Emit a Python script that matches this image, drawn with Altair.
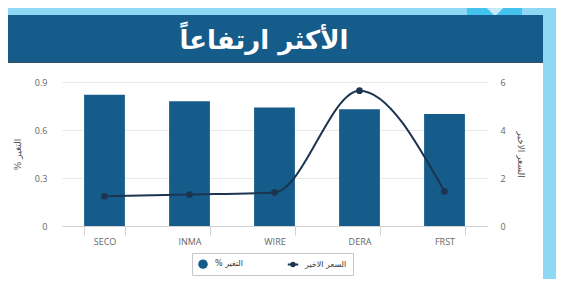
import altair as alt
import pandas as pd

# ---- data ----
categories = ["SECO", "INMA", "WIRE", "DERA", "FRST"]
change_pct = [0.82, 0.78, 0.74, 0.73, 0.70]       # % التغير (left axis)
last_price = [1.24, 1.31, 1.40, 5.64, 1.44]       # السعر الاخير (right axis)
bar_label = "% التغير"
line_label = "السعر الاخير"
title_text = "الأكثر ارتفاعاً"
left_ticks = [0, 0.3, 0.6, 0.9]
right_ticks = [0, 2, 4, 6]

BAR_COLOR = "#165c8b"
LINE_COLOR = "#1b3550"
ARABIC_FONT = "DejaVu Sans"
LATIN_FONT = "Open Sans"

df = pd.DataFrame({"code": categories, "chg": change_pct, "price": last_price})
deco = pd.DataFrame({"k": [0]})

color_scale = alt.Scale(domain=[bar_label, line_label], range=[BAR_COLOR, LINE_COLOR])

LINE_SYMBOL = (
    "M-1.1,-0.2H1.1V0.2H-1.1Z"
    "M-0.6,0A0.6,0.6,0,1,1,0.6,0A0.6,0.6,0,1,1,-0.6,0Z"
)

legend = alt.Legend(
    title=None,
    orient="none",
    legendX=130,
    legendY=171,
    direction="horizontal",
    symbolType=alt.ExprRef(expr="datum.index === 0 ? 'circle' : '%s'" % LINE_SYMBOL),
    symbolSize=90,
    symbolStrokeWidth=0,
    symbolFillColor=alt.ExprRef(expr="datum.index === 0 ? '%s' : '%s'" % (BAR_COLOR, LINE_COLOR)),
    labelFont=ARABIC_FONT,
    labelFontSize=8,
    labelColor="#333333",
    labelOffset=7,
    columnPadding=44,
    strokeColor="#c8c8c8",
    fillColor="white",
    padding=6,
)

color_enc = alt.Color("series:N", scale=color_scale, legend=legend)

x_enc = alt.X(
    "code:N",
    sort=categories,
    scale=alt.Scale(paddingInner=0.52, paddingOuter=0.26),
    axis=alt.Axis(
        title=None,
        labelAngle=0,
        tickBand="extent",
        tickSize=9,
        tickColor="#d0d0d0",
        domainColor="#d0d0d0",
        labelColor="#666666",
        labelFont=LATIN_FONT,
        labelFontSize=9,
        labelPadding=2,
        grid=False,
    ),
)

bars = alt.Chart(df).transform_calculate(series=repr(bar_label)).mark_bar().encode(
    x=x_enc,
    y=alt.Y(
        "chg:Q",
        scale=alt.Scale(domain=[0, 0.9], nice=False),
        axis=alt.Axis(
            orient="left",
            values=left_ticks,
            labelExpr="datum.value == 0 ? '0' : format(datum.value, '.1f')",
            title=bar_label,
            titleFont=ARABIC_FONT,
            titleFontSize=9,
            titleFontWeight="normal",
            titleColor="#555555",
            titlePadding=12,
            labelFont=LATIN_FONT,
            labelFontSize=9,
            labelColor="#666666",
            labelPadding=15,
            ticks=False,
            tickSize=0,
            domain=False,
            grid=True,
            gridColor="#e8e8e8",
        ),
    ),
    color=color_enc,
)

y_right = alt.Y(
    "price:Q",
    scale=alt.Scale(domain=[0, 6], nice=False),
    axis=alt.Axis(
        orient="right",
        values=right_ticks,
        title=line_label,
        titleFont=ARABIC_FONT,
        titleFontSize=9,
        titleFontWeight="normal",
        titleColor="#555555",
        titlePadding=10,
        labelFont=LATIN_FONT,
        labelFontSize=9,
        labelColor="#666666",
        labelPadding=13,
        ticks=False,
        tickSize=0,
        domain=False,
        grid=False,
    ),
)

line = alt.Chart(df).transform_calculate(series=repr(line_label)).mark_line(
    interpolate="monotone", strokeWidth=2
).encode(
    x=alt.X("code:N", sort=categories),
    y=y_right,
    color=color_enc,
)
points = alt.Chart(df).transform_calculate(series=repr(line_label)).mark_point(
    filled=True, size=45, opacity=1
).encode(
    x=alt.X("code:N", sort=categories),
    y=alt.Y("price:Q"),
    color=color_enc,
)
line_layer = alt.layer(line, points)

# ---- decorative header / frame ----
top_strip = alt.Chart(deco).mark_rect(color="#8ed8f6").encode(
    x=alt.value(-54), x2=alt.value(494), y=alt.value(-74), y2=alt.value(-67)
)
right_strip = alt.Chart(deco).mark_rect(color="#8ed8f6").encode(
    x=alt.value(481), x2=alt.value(494), y=alt.value(-74), y2=alt.value(197)
)
corner_box = alt.Chart(deco).mark_rect(color="#45c3ef").encode(
    x=alt.value(405), x2=alt.value(460), y=alt.value(-74), y2=alt.value(-67)
)
corner_tri = alt.Chart(deco).mark_point(
    shape="M-1,-0.5L1,-0.5L0,0.5Z", filled=True, opacity=1, color="#c6eafb", size=1225
).encode(x=alt.value(433), y=alt.value(-74.5))
banner = alt.Chart(deco).mark_rect(color=BAR_COLOR).encode(
    x=alt.value(-54), x2=alt.value(481), y=alt.value(-67), y2=alt.value(-19)
)
banner_edge = alt.Chart(deco).mark_rule(color="#35536b", strokeWidth=1.5).encode(
    x=alt.value(-54), x2=alt.value(481), y=alt.value(-20)
)
title = alt.Chart(deco).mark_text(
    text=title_text,
    font=ARABIC_FONT,
    fontSize=26,
    fontWeight="bold",
    color="white",
    align="center",
    baseline="middle",
).encode(x=alt.value(202), y=alt.value(-41))

chart = (
    alt.layer(
        top_strip, right_strip, corner_box, corner_tri, banner, banner_edge, title,
        bars, line_layer,
    )
    .resolve_scale(y="independent")
    .properties(
        width=425,
        height=144,
        padding={"left": 54, "top": 74, "right": 70, "bottom": 53},
        autosize=alt.AutoSizeParams(type="none"),
        background="white",
    )
    .configure_view(stroke=None)
)

chart.save("out.html", embed_options={"renderer": "svg", "actions": False})
